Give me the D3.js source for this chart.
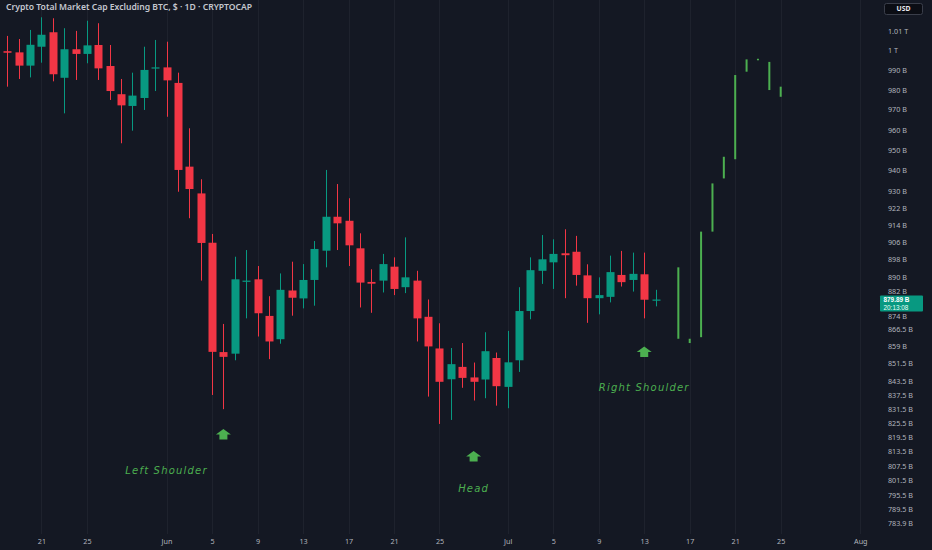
<!DOCTYPE html>
<html><head><meta charset="utf-8">
<script src="https://cdn.jsdelivr.net/npm/d3@7"></script>
<style>html,body{margin:0;padding:0;background:#141823;overflow:hidden}svg{display:block}</style>
</head><body><svg id="c" width="932" height="550"></svg>
<script>
// ---------- DATA ----------
const dates = ["2024-05-18","2024-05-19","2024-05-20","2024-05-21","2024-05-22","2024-05-23","2024-05-24","2024-05-25","2024-05-26","2024-05-27",
"2024-05-28","2024-05-29","2024-05-30","2024-05-31","2024-06-01","2024-06-02","2024-06-03","2024-06-04","2024-06-05","2024-06-06",
"2024-06-07","2024-06-08","2024-06-09","2024-06-10","2024-06-11","2024-06-12","2024-06-13","2024-06-14","2024-06-15","2024-06-16",
"2024-06-17","2024-06-18","2024-06-19","2024-06-20","2024-06-21","2024-06-22","2024-06-23","2024-06-24","2024-06-25","2024-06-26",
"2024-06-27","2024-06-28","2024-06-29","2024-06-30","2024-07-01","2024-07-02","2024-07-03","2024-07-04","2024-07-05","2024-07-06",
"2024-07-07","2024-07-08","2024-07-09","2024-07-10","2024-07-11","2024-07-12","2024-07-13","2024-07-14"];
const open  = [999.9,999.3,992.5,1002.2,1009.7,986.3,1000.9,998.5,1003.1,992.3,
978.0,972.1,976.1,991.4,991.6,983.7,942.2,929.3,906.0,856.4,
855.7,888.3,889.1,872.5,862.1,884.0,880.4,888.8,902.3,918.2,
916.3,903.4,887.9,888.5,894.9,885.5,888.5,872.1,858.0,844.5,
849.9,845.3,844.4,853.8,841.2,852.8,874.7,893.0,896.9,901.1,
901.8,890.9,880.5,881.1,891.1,888.8,891.4,879.8];
const high  = [1007.8,1006.2,1010.9,1017.5,1017.0,1011.8,1010.4,1015.7,1014.4,1003.1,
985.7,988.9,1002.2,1005.7,1004.8,988.9,961.0,936.1,910.1,868.9,
899.5,902.6,895.2,881.4,891.8,897.2,896.1,906.8,940.6,933.8,
927.0,910.4,893.7,900.8,899.2,908.5,893.0,879.9,869.2,858.2,
860.4,851.8,865.2,856.2,865.8,885.5,899.2,909.6,907.6,912.3,
909.2,896.0,890.0,900.0,902.2,901.4,901.4,884.3];
const low   = [981.8,985.7,986.5,994.0,984.5,968.4,985.2,993.7,985.2,975.1,
953.6,959.8,970.1,979.6,966.7,930.1,917.5,888.5,837.7,831.6,
852.8,871.4,863.3,853.3,860.1,872.6,875.9,877.1,894.6,902.6,
895.2,876.3,873.9,883.1,881.9,882.8,861.1,837.0,825.3,827.0,
840.8,835.3,836.3,833.1,832.0,847.7,871.0,887.0,884.7,880.5,
886.2,869.4,873.2,878.6,885.8,883.5,871.4,876.8];
const close = [999.1,992.5,1003.2,1008.4,988.1,1000.9,998.5,1002.9,991.1,979.6,
972.4,977.3,990.3,991.6,985.0,940.6,931.4,905.9,856.5,854.3,
889.1,888.5,873.7,861.1,884.3,880.7,888.8,903.1,918.2,915.1,
904.8,887.6,887.1,896.1,884.7,890.0,871.4,858.9,843.4,851.1,
845.1,843.4,856.8,841.5,851.9,874.7,893.3,898.3,900.8,900.2,
891.1,880.5,881.9,892.4,887.8,891.6,879.8,879.89];

// projected bars pattern (drawn in green)
const projDates = ["2024-07-16","2024-07-17","2024-07-18","2024-07-19","2024-07-20","2024-07-21","2024-07-22","2024-07-23","2024-07-24","2024-07-25"];
const projHigh  = [894.6,862.3,911.2,934.1,947.0,987.7,995.7,996.0,994.4,981.8];
const projLow   = [862.3,860.4,863.0,911.2,936.5,945.8,989.4,995.4,980.1,976.7];

const yTicks = [1010,1000,990,980,970,960,950,940,930,922,914,906,898,890,882,874,866.5,859,851.5,843.5,837.5,831.5,825.5,819.5,813.5,807.5,801.5,795.5,789.5,783.9];
const yTickLabels = ["1.01 T","1 T","990 B","980 B","970 B","960 B","950 B","940 B","930 B","922 B","914 B","906 B","898 B","890 B","882 B","874 B","866.5 B","859 B","851.5 B","843.5 B","837.5 B","831.5 B","825.5 B","819.5 B","813.5 B","807.5 B","801.5 B","795.5 B","789.5 B","783.9 B"];

const xTickDates = ["2024-05-21","2024-05-25","2024-06-01","2024-06-05","2024-06-09","2024-06-13","2024-06-17","2024-06-21","2024-06-25","2024-07-01","2024-07-05","2024-07-09","2024-07-13","2024-07-17","2024-07-21","2024-07-25","2024-08-01"];
const xTickLabels = ["21","25","Jun","5","9","13","17","21","25","Jul","5","9","13","17","21","25","Aug"];

const title = "Crypto Total Market Cap Excluding BTC, $ \u00b7 1D \u00b7 CRYPTOCAP";
const lastPrice = 879.89;
const lastPriceLabel = "879.89 B";
const countdown = "20:13:08";
const currency = "USD";

const annoLabels = ["Left Shoulder","Head","Right Shoulder"];
const annoArrowDates = ["2024-06-06","2024-06-28","2024-07-13"];
const annoArrowPrices = [823.1,813.9,858.9];
const annoTextDates = ["2024-06-01","2024-06-28","2024-07-13"];
const annoTextPrices = [805.5,798.2,840.7];

// ---------- CHART ----------
const W = 932, H = 550;
const parse = d3.utcParse("%Y-%m-%d");
const svg = d3.select("#c");
const bg = "#141823", up = "#089981", down = "#F23645", proj = "#4CAF50", txt = "#b2b5be";
svg.append("rect").attr("width", W).attr("height", H).attr("fill", bg);

const x = d3.scaleUtc().domain([parse("2024-05-18"), parse("2024-07-25")]).range([7.3, 780.7]);
const y = d3.scaleLog().domain([1000, 783.9]).range([51, 523.9]);

const candles = dates.map((d, i) => ({date: parse(d), o: open[i], h: high[i], l: low[i], c: close[i]}));

// vertical grid
svg.append("g").selectAll("line").data(xTickDates).join("line")
  .attr("x1", d => Math.round(x(parse(d))) + 0.5).attr("x2", d => Math.round(x(parse(d))) + 0.5)
  .attr("y1", 0).attr("y2", 534)
  .attr("stroke", "#1e222d").attr("stroke-width", 1);

// candles
const cg = svg.append("g");
cg.selectAll("line.wick").data(candles).join("line").attr("class", "wick")
  .attr("x1", d => Math.round(x(d.date)) + 0.5).attr("x2", d => Math.round(x(d.date)) + 0.5)
  .attr("y1", d => y(d.h)).attr("y2", d => y(d.l))
  .attr("stroke", d => d.c >= d.o ? up : down).attr("stroke-width", 1);
const bw = 8;
cg.selectAll("rect.body").data(candles).join("rect").attr("class", "body")
  .attr("x", d => Math.round(x(d.date)) + 0.5 - bw / 2)
  .attr("y", d => y(Math.max(d.o, d.c)))
  .attr("width", bw)
  .attr("height", d => Math.max(1.2, y(Math.min(d.o, d.c)) - y(Math.max(d.o, d.c))))
  .attr("fill", d => d.c >= d.o ? up : down);

// projected bars
const projData = projDates.map((d, i) => ({date: parse(d), h: projHigh[i], l: projLow[i]}));
svg.append("g").selectAll("rect").data(projData).join("rect")
  .attr("x", d => x(d.date) - 1).attr("width", 2)
  .attr("y", d => y(d.h)).attr("height", d => Math.max(1.5, y(d.l) - y(d.h)))
  .attr("fill", proj);

// annotations
const ag = svg.append("g");
const arrowPath = "M0,0 L7.5,5.5 L4,5.5 L4,10.5 L-4,10.5 L-4,5.5 L-7.5,5.5 Z";
annoLabels.forEach((lab, i) => {
  ag.append("path").attr("d", arrowPath)
    .attr("transform", `translate(${x(parse(annoArrowDates[i]))},${y(annoArrowPrices[i])})`)
    .attr("fill", proj);
  ag.append("text").text(lab)
    .attr("x", x(parse(annoTextDates[i]))).attr("y", y(annoTextPrices[i]))
    .attr("text-anchor", "middle").attr("dominant-baseline", "middle")
    .attr("font-family", "'DejaVu Sans', sans-serif").attr("font-style", "italic")
    .attr("font-size", 10).attr("letter-spacing", 1.2).attr("fill", proj);
});

// price axis
const ly = y(lastPrice);
const tagTop = ly - 4, tagH = 16;
const yAxis = d3.axisRight(y).tickValues(yTicks)
  .tickFormat((d, i) => yTickLabels[i]).tickSize(0).tickPadding(0);
const ya = svg.append("g").attr("transform", "translate(888,0)").call(yAxis);
ya.select(".domain").remove();
ya.selectAll("text").attr("fill", txt).attr("font-size", 7.2)
  .attr("font-family", "'Noto Sans', sans-serif").attr("dy", "0.32em");
// keep labels next to the last-price tag just clear of it
ya.selectAll(".tick").attr("transform", function(d) {
  let p = y(d);
  if (p < tagTop + tagH / 2 && p > tagTop - 5) p = tagTop - 4.2;
  else if (p >= tagTop + tagH / 2 && p < tagTop + tagH + 6) p = tagTop + tagH + 5.5;
  return `translate(0,${p})`;
});

// last price tag
svg.append("rect").attr("x", 880).attr("y", tagTop).attr("width", 43).attr("height", tagH)
  .attr("fill", up).attr("rx", 1);
svg.append("text").attr("x", 883.5).attr("y", tagTop + 6.6).text(lastPriceLabel)
  .attr("fill", "#fff").attr("font-size", 6.4).attr("font-weight", "bold")
  .attr("font-family", "'Liberation Sans', sans-serif");
svg.append("text").attr("x", 883.5).attr("y", tagTop + 14.3).text(countdown)
  .attr("fill", "#e8fff8").attr("font-size", 6.4)
  .attr("font-family", "'Liberation Sans', sans-serif");

// currency box
svg.append("rect").attr("x", 884.5).attr("y", 3.5).attr("width", 38).attr("height", 11)
  .attr("fill", "#0b0d14").attr("stroke", "#3a3e4a").attr("rx", 2);
svg.append("text").attr("x", 903.5).attr("y", 11.3).attr("text-anchor", "middle").text(currency)
  .attr("fill", "#e6e8ee").attr("font-size", 6.8).attr("font-weight", "bold")
  .attr("font-family", "'Noto Sans', sans-serif");

// time axis
const xAxis = d3.axisBottom(x).tickValues(xTickDates.map(parse))
  .tickFormat((d, i) => xTickLabels[i]).tickSize(0).tickPadding(0);
const xa = svg.append("g").attr("transform", "translate(0,539)").call(xAxis);
xa.select(".domain").remove();
xa.selectAll("text").attr("fill", txt).attr("font-size", 7.2)
  .attr("font-family", "'Noto Sans', sans-serif");

// title
svg.append("text").attr("x", 6).attr("y", 10).text(title)
  .attr("fill", "#c4c7cf").attr("font-size", 8.6).attr("font-weight", 600)
  .attr("font-family", "'Noto Sans', sans-serif");
</script></body></html>
